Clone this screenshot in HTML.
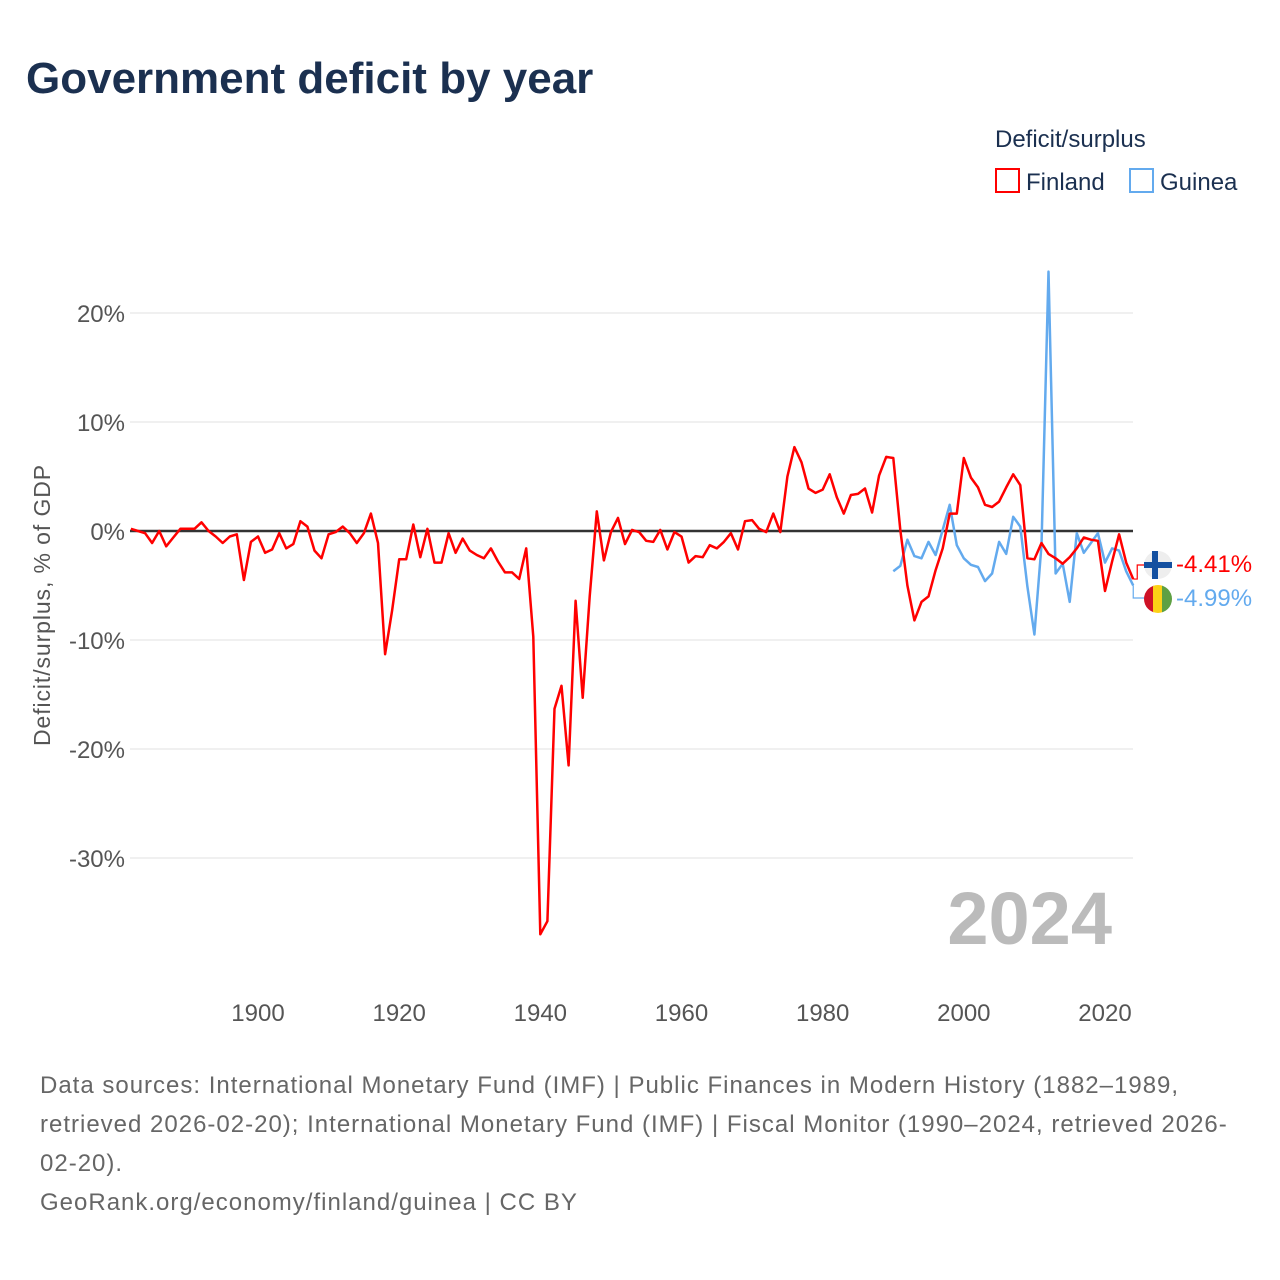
<!DOCTYPE html>
<html><head><meta charset="utf-8">
<style>
body{margin:0;background:#fff;font-family:"Liberation Sans",sans-serif;}
#wrap{position:relative;width:1280px;height:1280px;overflow:hidden;}
</style></head>
<body>
<div id="wrap">
<svg id="chart" width="1280" height="1280" style="position:absolute;left:0;top:0">
<text x="26" y="93" font-size="44" font-weight="bold" fill="#1b3050" font-family="Liberation Sans">Government deficit by year</text>
<g>
<text x="995" y="147" font-size="24" fill="#1b3050">Deficit/surplus</text>
<rect x="996" y="169" width="23" height="23" fill="none" stroke="#f00" stroke-width="2"/>
<text x="1026" y="190" font-size="24" fill="#1b3050">Finland</text>
<rect x="1130" y="169" width="23" height="23" fill="none" stroke="#63aaee" stroke-width="2"/>
<text x="1160" y="190" font-size="24" fill="#1b3050">Guinea</text>
</g>
<text transform="translate(50,605) rotate(-90)" text-anchor="middle" font-size="23" letter-spacing="0.9" fill="#555">Deficit/surplus, % of GDP</text>
<g id="grid"></g>
<g id="xt"></g>
<text x="1112" y="944" text-anchor="end" font-size="74" font-weight="bold" fill="#bbb">2024</text>
<g id="series"></g>
<g id="ends"></g>
<g font-size="24" fill="#666" letter-spacing="1">
<text x="40" y="1093">Data sources: International Monetary Fund (IMF) | Public Finances in Modern History (1882–1989,</text>
<text x="40" y="1132">retrieved 2026-02-20); International Monetary Fund (IMF) | Fiscal Monitor (1990–2024, retrieved 2026-</text>
<text x="40" y="1171">02-20).</text>
<text x="40" y="1210">GeoRank.org/economy/finland/guinea | CC BY</text>
</g>
</svg>
</div>
<script>
const finlandStart = 1882;
const finlandValues = [0.2,0,-0.2,-1.1,0,-1.4,-0.6,0.2,0.2,0.2,0.8,0,-0.5,-1.1,-0.5,-0.3,-4.5,-1,-0.5,-2,-1.7,-0.2,-1.6,-1.2,0.9,0.4,-1.8,-2.5,-0.3,-0.1,0.4,-0.2,-1.1,-0.2,1.6,-1.1,-11.3,-7.3,-2.6,-2.6,0.6,-2.4,0.2,-2.9,-2.9,-0.2,-2,-0.7,-1.8,-2.2,-2.5,-1.6,-2.8,-3.8,-3.8,-4.4,-1.6,-9.7,-37,-35.8,-16.3,-14.2,-21.5,-6.4,-15.3,-6.0,1.8,-2.7,-0.1,1.2,-1.2,0.1,-0.1,-0.9,-1,0.1,-1.7,-0.1,-0.5,-2.9,-2.3,-2.4,-1.3,-1.6,-1,-0.2,-1.7,0.9,1.0,0.2,-0.1,1.6,-0.1,5,7.7,6.3,3.9,3.5,3.8,5.2,3.1,1.6,3.3,3.4,3.9,1.7,5.1,6.8,6.7,0.1,-5,-8.2,-6.5,-6,-3.6,-1.6,1.6,1.6,6.7,4.9,4,2.4,2.2,2.7,4,5.2,4.2,-2.5,-2.6,-1.1,-2.1,-2.5,-3,-2.4,-1.6,-0.6,-0.8,-0.9,-5.5,-2.8,-0.3,-2.9,-4.41];
const guineaStart = 1990;
const guineaValues = [-3.7,-3.2,-0.8,-2.3,-2.5,-1.0,-2.2,0.1,2.4,-1.3,-2.5,-3.1,-3.3,-4.6,-3.9,-1,-2.1,1.3,0.4,-5.1,-9.5,-1.3,23.8,-3.9,-3.0,-6.5,-0.2,-2.0,-1.1,-0.2,-2.9,-1.6,-1.8,-3.7,-4.99];
const yTicks = [20,10,0,-10,-20,-30];
const yTickLabels = ["20%","10%","0%","-10%","-20%","-30%"];
const xTicks = [1900,1920,1940,1960,1980,2000,2020];

const NS="http://www.w3.org/2000/svg";
const X=y=>258+(y-1900)*(1105-258)/120;
const Y=v=>531-v*10.9;
function mk(t,a,p){const e=document.createElementNS(NS,t);for(const k in a)e.setAttribute(k,a[k]);p.appendChild(e);return e;}
const grid=document.getElementById('grid');
yTicks.forEach((t,i)=>{
  const l=mk('line',{x1:130,x2:1133,y1:Y(t),y2:Y(t),stroke:t===0?'#333':'#e6e6e6','stroke-width':t===0?2.5:1.2},grid);
  
  
  const tx=mk('text',{x:125,y:Y(t)+9,'text-anchor':'end','font-size':24,fill:'#555'},grid);
  tx.textContent=yTickLabels[i];
  
  
});
const xt=document.getElementById('xt');
xTicks.forEach(t=>{
  const tx=mk('text',{x:X(t),y:1021,'text-anchor':'middle','font-size':24,fill:'#555'},xt);
  tx.textContent=t;
  
  
});
const s=document.getElementById('series');
function line(start,vals,color,name){
  const d=vals.map((v,i)=>(i?'L':'M')+X(start+i).toFixed(1)+','+Y(v).toFixed(1)).join('');
  const p=mk('path',{d:d,fill:'none',stroke:color,'stroke-width':2.5,'stroke-linejoin':'round'},s);
  
  
}
line(guineaStart,guineaValues,'#63aaee','guinea-line');
line(finlandStart,finlandValues,'#f00','finland-line');
const ends=document.getElementById('ends');
const fv=finlandValues[finlandValues.length-1], gv=guineaValues[guineaValues.length-1];
const ex=X(2024);
const c1=mk('path',{d:`M${ex},${Y(fv)}H${ex+4}V565H${ex+12}`,fill:'none',stroke:'#f00','stroke-width':1.2},ends);


const c2=mk('path',{d:`M${ex},${Y(gv)}V598H${ex+12}`,fill:'none',stroke:'#63aaee','stroke-width':1.2},ends);


const ff=mk('g',{},ends);


mk('circle',{cx:1158,cy:565,r:14,fill:'#eee'},ff);
mk('rect',{x:1144,y:562,width:28,height:6,fill:'#1450a0'},ff);
mk('rect',{x:1152,y:551,width:6,height:28,fill:'#1450a0'},ff);
const gf=mk('g',{},ends);


const cp=mk('clipPath',{id:'gc'},gf);mk('circle',{cx:1158,cy:599,r:14},cp);
mk('rect',{x:1144,y:585,width:10,height:28,fill:'#ce1126','clip-path':'url(#gc)'},gf);
mk('rect',{x:1153,y:585,width:10,height:28,fill:'#fcd116','clip-path':'url(#gc)'},gf);
mk('rect',{x:1162,y:585,width:10,height:28,fill:'#5ea043','clip-path':'url(#gc)'},gf);
const fl=mk('text',{x:1176,y:572,'font-size':24,fill:'#f00'},ends);
fl.textContent=fv.toFixed(2)+'%';


const gl=mk('text',{x:1176,y:606,'font-size':24,fill:'#63aaee'},ends);
gl.textContent=gv.toFixed(2)+'%';


</script>
</body></html>
